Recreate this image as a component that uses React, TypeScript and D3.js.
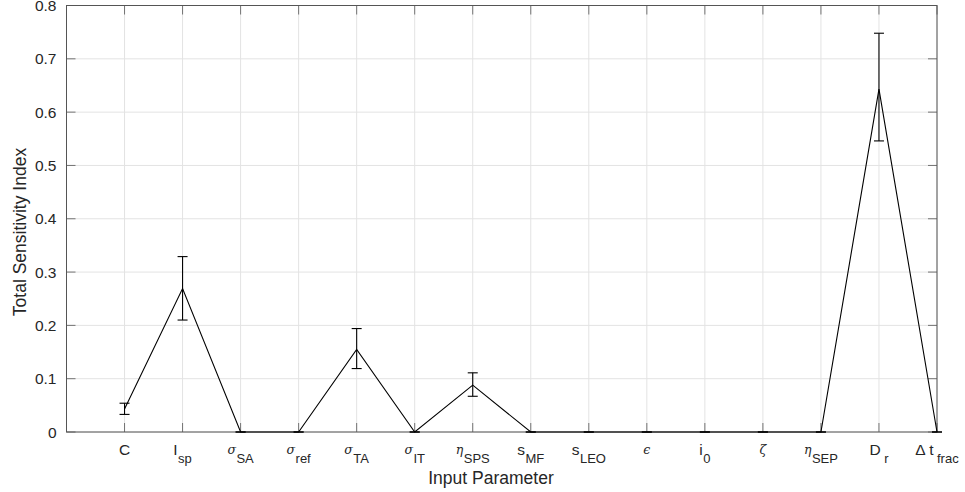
import React from "react";
import * as d3 from "d3";

const categories: { base: string; sub: string; greek?: boolean; gap?: boolean }[] = [
  { base: "C", sub: "" },
  { base: "I", sub: "sp" },
  { base: "σ", sub: "SA", greek: true },
  { base: "σ", sub: "ref", greek: true },
  { base: "σ", sub: "TA", greek: true },
  { base: "σ", sub: "IT", greek: true },
  { base: "η", sub: "SPS", greek: true },
  { base: "s", sub: "MF" },
  { base: "s", sub: "LEO" },
  { base: "ϵ", sub: "", greek: true },
  { base: "i", sub: "0" },
  { base: "ζ", sub: "", greek: true },
  { base: "η", sub: "SEP", greek: true },
  { base: "D", sub: "r", gap: true },
  { base: "Δ t", sub: "frac", gap: true },
];
const values = [0.043, 0.269, 0, 0, 0.155, 0, 0.088, 0, 0, 0, 0, 0, 0, 0.643, 0];
const lowers = [0.033, 0.21, 0, 0, 0.119, 0, 0.067, 0, 0, 0, 0, 0, 0, 0.546, 0];
const uppers = [0.054, 0.329, 0, 0, 0.194, 0, 0.111, 0, 0, 0, 0, 0, 0, 0.748, 0];
const yTicks = [0, 0.1, 0.2, 0.3, 0.4, 0.5, 0.6, 0.7, 0.8];

export default function App() {
  const W = 965, H = 492;
  const L = 66.5, R = 937, T = 5.5, B = 432;
  const x = d3.scaleLinear().domain([0, 15]).range([L, R]);
  const y = d3.scaleLinear().domain([0, 0.8]).range([B, T]);
  const font = "'Liberation Sans', Arial, Helvetica, sans-serif";
  const line = d3.line<number>().x((_, i) => x(i + 1)).y((d) => y(d));
  const tickLen = 9;
  const cap = 5;
  const axisColor = "#555";
  const tickFs = 15.5;
  return (
    <svg width={W} height={H} style={{ position: "absolute", left: 0, top: 0 }} fontFamily={font}>
      <rect x={0} y={0} width={W} height={H} fill="#fff" />
      {/* grid */}
      {yTicks.map((t) => (
        <line key={"gy" + t} x1={L} x2={R} y1={y(t)} y2={y(t)} stroke="#e3e3e3" strokeWidth={1} />
      ))}
      {categories.map((_, i) => (
        <line key={"gx" + i} x1={x(i + 1)} x2={x(i + 1)} y1={T} y2={B} stroke="#e3e3e3" strokeWidth={1} />
      ))}
      {/* ticks */}
      {yTicks.map((t) => (
        <g key={"ty" + t}>
          <line x1={L} x2={L + tickLen} y1={y(t)} y2={y(t)} stroke={axisColor} strokeWidth={0.8} />
          <line x1={R} x2={R - tickLen} y1={y(t)} y2={y(t)} stroke={axisColor} strokeWidth={0.8} />
          <text x={L - 10} y={y(t) + 5.5} textAnchor="end" fontSize={tickFs} fill="#262626">
            {t === 0 ? "0" : t.toFixed(1)}
          </text>
        </g>
      ))}
      {categories.map((c, i) => (
        <g key={"tx" + i}>
          <line x1={x(i + 1)} x2={x(i + 1)} y1={B} y2={B - tickLen} stroke={axisColor} strokeWidth={0.8} />
          <line x1={x(i + 1)} x2={x(i + 1)} y1={T} y2={T + tickLen} stroke={axisColor} strokeWidth={0.8} />
          <text x={x(i + 1)} y={455} textAnchor="middle" fontSize={tickFs} fill="#262626">
            <tspan fontFamily={c.greek ? "'DejaVu Serif', serif" : font} fontStyle={c.greek ? "italic" : "normal"} fontSize={c.greek ? 12.5 : tickFs} dy={c.greek ? -1.5 : 0}>
              {c.base}
            </tspan>
            {c.sub ? (
              <tspan dy={c.greek ? 9 : 7.5} dx={c.gap ? 3.5 : 0.5} fontSize={13}>
                {c.sub}
              </tspan>
            ) : null}
          </text>
        </g>
      ))}
      {/* box */}
      <rect x={L} y={T} width={R - L} height={B - T} fill="none" stroke={axisColor} strokeWidth={1} />
      {/* data line */}
      <path d={line(values) || ""} fill="none" stroke="#000" strokeWidth={1.1} />
      {values.map((v, i) => (
        <g key={"eb" + i} stroke="#000" strokeWidth={1.1}>
          <line x1={x(i + 1)} x2={x(i + 1)} y1={y(lowers[i])} y2={y(uppers[i])} />
          <line x1={x(i + 1) - cap} x2={x(i + 1) + cap} y1={y(uppers[i])} y2={y(uppers[i])} />
          <line x1={x(i + 1) - cap} x2={x(i + 1) + cap} y1={y(lowers[i])} y2={y(lowers[i])} />
        </g>
      ))}
      {/* axis labels */}
      <text x={491} y={484} textAnchor="middle" fontSize={17.5} fill="#262626">
        Input Parameter
      </text>
      <text transform={`translate(26, 232) rotate(-90)`} textAnchor="middle" fontSize={17.5} fill="#262626">
        Total Sensitivity Index
      </text>
    </svg>
  );
}
